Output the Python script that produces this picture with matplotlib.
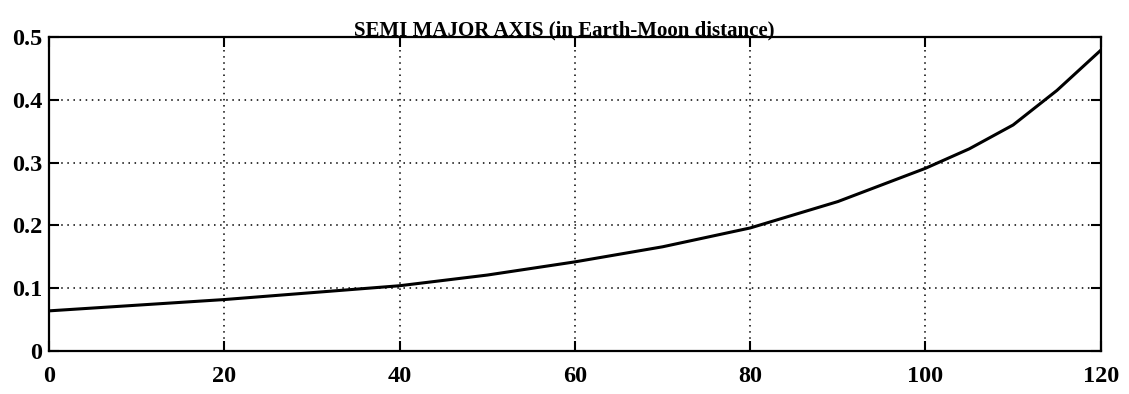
import matplotlib
matplotlib.use('Agg')
import matplotlib.pyplot as plt

# semi major axis vs time
t = [0, 10, 20, 30, 40, 50, 60, 70, 80, 90, 100, 105, 110, 115, 120]
a = [0.064, 0.073, 0.082, 0.093, 0.104, 0.121, 0.142, 0.166, 0.196, 0.238,
     0.291, 0.322, 0.360, 0.415, 0.479]

xticks = [0, 20, 40, 60, 80, 100, 120]
yticks = [0, 0.1, 0.2, 0.3, 0.4, 0.5]
ylabels = ['0', '0.1', '0.2', '0.3', '0.4', '0.5']

plt.rcParams['font.family'] = ['Liberation Serif', 'DejaVu Serif']
plt.rcParams['font.weight'] = 'bold'

fig = plt.figure(figsize=(11.29, 3.94), dpi=100)
ax = fig.add_axes([0.0434, 0.109, 0.9316, 0.797])

ax.plot(t, a, color='black', lw=2.2)

ax.set_xlim(0, 120)
ax.set_ylim(0, 0.5)
ax.set_xticks(xticks)
ax.set_yticks(yticks)
ax.set_yticklabels(ylabels)
ax.grid(True, color='black', linestyle=(0, (1, 3)), linewidth=1.1)
ax.tick_params(direction='in', length=7, width=1.5, top=True, right=True,
               labelsize=17.5)
ax.tick_params(axis='x', pad=11)
ax.tick_params(axis='y', pad=5)
for s in ax.spines.values():
    s.set_linewidth(1.6)

ax.set_title('SEMI MAJOR AXIS (in Earth-Moon distance)', fontsize=15,
             fontweight='bold', pad=1, x=0.49)

fig.savefig('out.png', dpi=100)
